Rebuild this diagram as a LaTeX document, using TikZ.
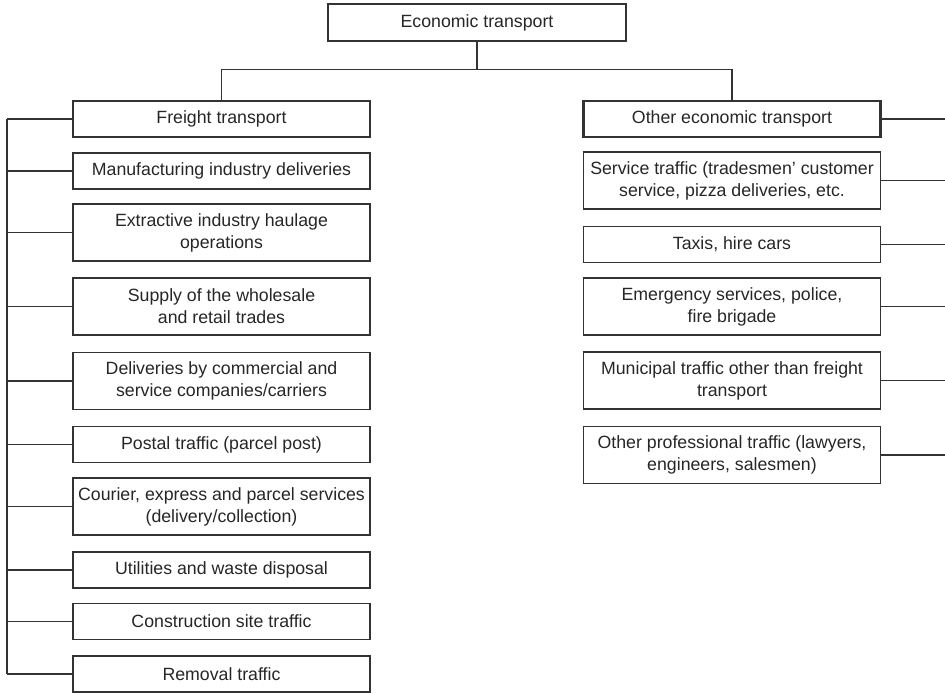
\documentclass[tikz,border=0pt]{standalone}
\usepackage{fontspec}
\setmainfont{Liberation Sans}
\begin{document}
\begin{tikzpicture}[x=0.75pt,y=-0.75pt,
  every node/.style={font=\fontsize{13.3}{16.5}\selectfont, text=black!85},
  box/.style={draw=black!80, line width=0.85pt, rectangle, inner sep=0pt,
              minimum width=297*0.75pt, align=center},
  single/.style={box, minimum height=36*0.75pt},
  double/.style={box, minimum height=57*0.75pt},
  head/.style={single, line width=1.6pt},
  link/.style={draw=black!80, line width=0.8pt}]
\useasboundingbox (0,0) rectangle (945,693);

% root
\node[single, minimum width=298*0.75pt, minimum height=37*0.75pt] (root) at (477,22.5) {Economic transport};

% freight branch
\node[head]   (freight) at (221.5,119)   {Freight transport};
\node[single] (manuf)   at (221.5,171)   {Manufacturing industry deliveries};
\node[double] (extract) at (221.5,232.5) {Extractive industry haulage\\operations};
\node[double] (supply)  at (221.5,306.5) {Supply of the wholesale\\and retail trades};
\node[double] (deliv)   at (221.5,381)   {Deliveries by commercial and\\service companies/carriers};
\node[single] (postal)  at (221.5,444.5) {Postal traffic (parcel post)};
\node[double] (courier) at (221.5,506.5) {Courier, express and parcel services\\(delivery/collection)};
\node[single] (util)    at (221.5,570)   {Utilities and waste disposal};
\node[single] (constr)  at (221.5,621.5) {Construction site traffic};
\node[single] (removal) at (221.5,674)   {Removal traffic};

% other economic transport branch
\node[head]   (other)   at (732,119)   {Other economic transport};
\node[double] (service) at (732,180.5) {Service traffic (tradesmen’ customer\\service, pizza deliveries, etc.};
\node[single] (taxi)    at (732,244.5) {Taxis, hire cars};
\node[double] (emerg)   at (732,306.5) {Emergency services, police,\\fire brigade};
\node[double] (munic)   at (732,380.5) {Municipal traffic other than freight\\transport};
\node[double] (prof)    at (732,455)   {Other professional traffic (lawyers,\\engineers, salesmen)};

% bus lines
\coordinate (lbus) at (7,0);
\coordinate (rbus) at (945,0);

% root to the two branches
\draw[link] (root.south) -- ++(0,28) coordinate (split);
\draw[link] (split) -| (freight.north);
\draw[link] (split) -| (other.north);

% left bus
\draw[link] (freight.west -| lbus) -- (removal.west -| lbus);
\foreach \n in {freight,manuf,extract,supply,deliv,postal,courier,util,constr,removal}
  \draw[link] (\n.west) -- (\n.west -| lbus);

% right feeders
\foreach \n in {other,service,taxi,emerg,munic,prof}
  \draw[link] (\n.east) -- (\n.east -| rbus);
\end{tikzpicture}
\end{document}
